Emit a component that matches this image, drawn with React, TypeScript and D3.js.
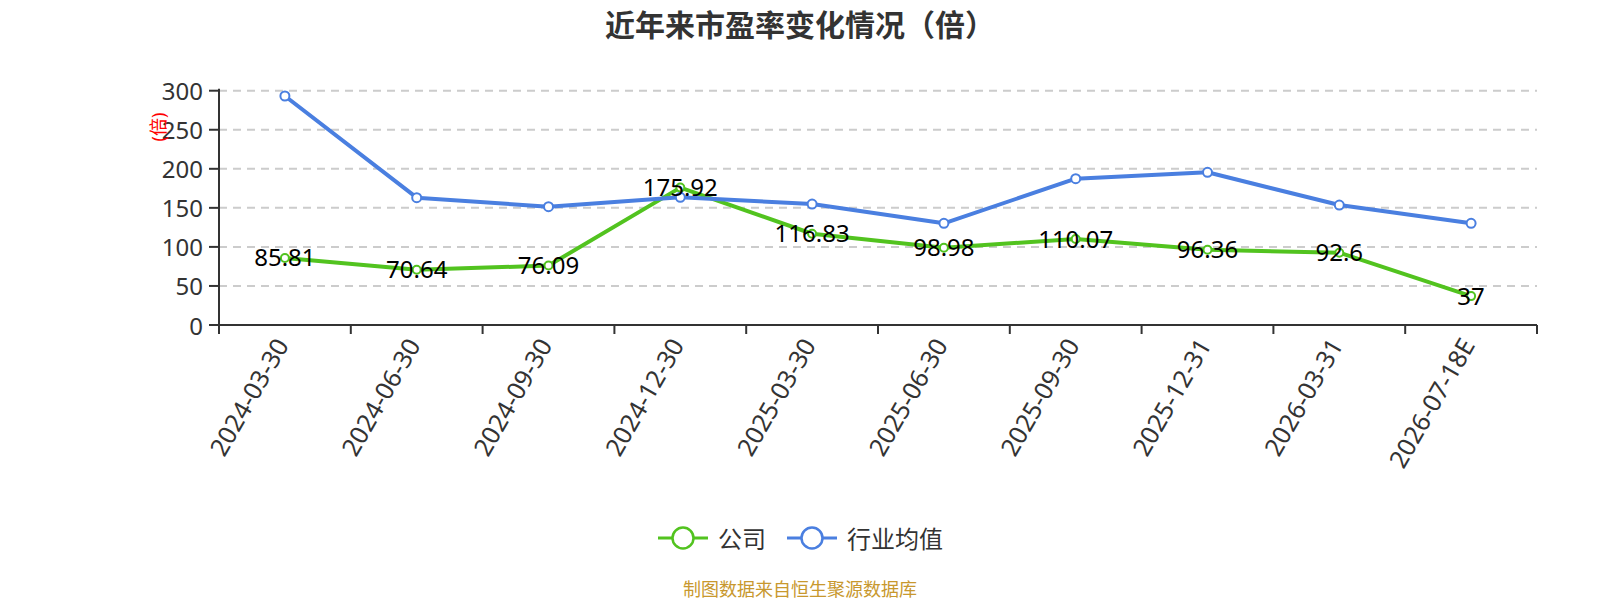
import React from "react";
import * as d3 from "d3";

const categories = [
  "2024-03-30",
  "2024-06-30",
  "2024-09-30",
  "2024-12-30",
  "2025-03-30",
  "2025-06-30",
  "2025-09-30",
  "2025-12-31",
  "2026-03-31",
  "2026-07-18E",
];
const companyValues = [85.81, 70.64, 76.09, 175.92, 116.83, 98.98, 110.07, 96.36, 92.6, 37];
const industryValues = [293.2, 163.0, 151.5, 163.5, 154.9, 130.2, 187.3, 195.5, 153.6, 130.2];
const yTicks = [0, 50, 100, 150, 200, 250, 300];
const seriesNames = ["公司", "行业均值"];
const titleText = "近年来市盈率变化情况（倍）";
const yAxisName = "(倍)";
const footerText = "制图数据来自恒生聚源数据库";

const GREEN = "#52c31f";
const BLUE = "#4a7fe0";
const FONT = "'Noto Sans', 'Noto Sans CJK SC', sans-serif";

export default function App() {
  const W = 1600;
  const H = 600;
  const left = 219;
  const right = 1537;
  const top = 90.7;
  const bottom = 325;

  const x = d3.scaleBand<string>().domain(categories).range([left, right]);
  const y = d3.scaleLinear().domain([0, 300]).range([bottom, top]);
  const cx = (i: number) => (x(categories[i]) as number) + x.bandwidth() / 2;

  const line = d3
    .line<number>()
    .x((_, i) => cx(i))
    .y((d) => y(d));

  const ticksX = categories.map((c) => x(c) as number).concat([right]);

  return (
    <svg
      width={W}
      height={H}
      style={{ position: "absolute", left: 0, top: 0, background: "#fff" }}
      fontFamily={FONT}
    >
      <rect x={0} y={0} width={W} height={H} fill="#fff" />
      {/* title */}
      <text
        x={800}
        y={24}
        textAnchor="middle"
        dominantBaseline="central"
        fontSize={30}
        fontWeight="bold"
        fill="#333"
      >
        {titleText}
      </text>

      {/* grid lines */}
      {yTicks
        .filter((t) => t !== 0)
        .map((t) => (
          <line
            key={"g" + t}
            x1={left}
            x2={right}
            y1={y(t)}
            y2={y(t)}
            stroke="#ccc"
            strokeWidth={2}
            strokeDasharray="8,6"
          />
        ))}

      {/* y axis */}
      <line x1={left} x2={left} y1={top - 2} y2={bottom} stroke="#333" strokeWidth={2} />
      {yTicks.map((t) => (
        <g key={"y" + t}>
          <line x1={left - 10} x2={left} y1={y(t)} y2={y(t)} stroke="#333" strokeWidth={2} />
          <text
            x={left - 16}
            y={y(t)}
            textAnchor="end"
            dominantBaseline="central"
            fontSize={24}
            fill="#333"
          >
            {t}
          </text>
        </g>
      ))}
      <text
        transform={`translate(158,127) rotate(-90)`}
        textAnchor="middle"
        dominantBaseline="central"
        fontSize={18}
        fill="#ff0000"
      >
        {yAxisName}
      </text>

      {/* x axis */}
      <line x1={left} x2={right} y1={bottom} y2={bottom} stroke="#333" strokeWidth={2} />
      {ticksX.map((tx, i) => (
        <line key={"xt" + i} x1={tx} x2={tx} y1={bottom} y2={bottom + 9} stroke="#333" strokeWidth={2} />
      ))}
      {categories.map((c, i) => (
        <text
          key={"xl" + c}
          transform={`translate(${cx(i) - 4},${bottom + 15}) rotate(-60)`}
          textAnchor="end"
          dominantBaseline="central"
          fontSize={25}
          fill="#333"
        >
          {c}
        </text>
      ))}

      {/* company line */}
      <path d={line(companyValues) || ""} fill="none" stroke={GREEN} strokeWidth={4} strokeLinejoin="round" />
      {companyValues.map((v, i) => (
        <circle key={"cc" + i} cx={cx(i)} cy={y(v)} r={4} fill="#fff" stroke={GREEN} strokeWidth={2} />
      ))}

      {/* industry line */}
      <path d={line(industryValues) || ""} fill="none" stroke={BLUE} strokeWidth={4} strokeLinejoin="round" />
      {industryValues.map((v, i) => (
        <circle key={"ic" + i} cx={cx(i)} cy={y(v)} r={4.5} fill="#fff" stroke={BLUE} strokeWidth={2} />
      ))}

      {/* labels */}
      {companyValues.map((v, i) => (
        <text
          key={"lb" + i}
          x={cx(i)}
          y={y(v) - 1}
          textAnchor="middle"
          dominantBaseline="central"
          fontSize={24}
          fill="#000"
        >
          {v}
        </text>
      ))}

      {/* legend */}
      {[
        { name: seriesNames[0], color: GREEN, x0: 658 },
        { name: seriesNames[1], color: BLUE, x0: 787 },
      ].map((it) => (
        <g key={it.name}>
          <line x1={it.x0} x2={it.x0 + 50} y1={538} y2={538} stroke={it.color} strokeWidth={3} />
          <circle cx={it.x0 + 25} cy={538} r={10.5} fill="#fff" stroke={it.color} strokeWidth={2.5} />
          <text x={it.x0 + 60} y={538} dominantBaseline="central" fontSize={24} fill="#333">
            {it.name}
          </text>
        </g>
      ))}

      {/* footer */}
      <text x={800} y={589} textAnchor="middle" dominantBaseline="central" fontSize={18} fill="#c8982e">
        {footerText}
      </text>
    </svg>
  );
}
